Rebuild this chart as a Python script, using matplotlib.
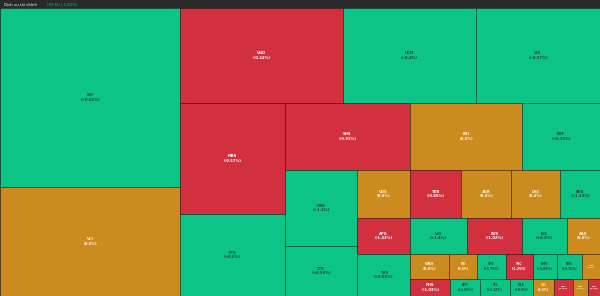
import matplotlib
matplotlib.use("Agg")
import matplotlib.pyplot as plt
from matplotlib.patches import Rectangle

# Treemap of the financial services sector
tickers = ["SSI", "VCI",
           "VND", "HCM", "VIX",
           "MBS", "FTS",
           "SHS", "BSI", "EVF",
           "ORS", "CTS",
           "VDS", "TVB", "AGR", "DSC", "BVS",
           "APG", "VIG", "EVS", "IVS", "AAS",
           "TVS",
           "WSS", "PSI", "VFS", "TVC", "BMS", "SBS", "HBS",
           "PHS", "APS", "TCI", "DSE", "CSI", "HAC", "GBS", "AVS"]
sizes = [32220, 19620,
         15485, 12635, 11780,
         11655, 8610,
         8375, 7504, 5226,
         5472, 3600,
         2544, 2448, 2400, 2352, 1920,
         1908, 2052, 1980, 1620, 1188,
         2226,
         975, 700, 700, 675, 600, 625, 450,
         680, 510, 510, 391, 357, 323, 255, 204]
changes = [0.65, 0.0,
           -0.34, 0.4, 0.37,
           -0.57, 0.6,
           -0.91, 0.0, 0.35,
           1.1, 0.59,
           0.0, -0.86, 0.0, 0.0, 1.19,
           -1.43, 2.4, -1.02, 0.3, 0.0,
           0.56,
           0.0, 0.0, 1.79, -1.25, 0.89, 0.76, 0.0,
           -1.03, 2.08, 1.12, 0.9, 0.0, -1.8, 0.0, -2.0]

# how the tiles are grouped into strips: (direction, number of tiles)
strips = [("V", 2), ("H", 3), ("V", 2), ("H", 3), ("V", 2),
          ("H", 5), ("H", 5), ("V", 1), ("H", 7), ("H", 8)]

GREEN = "#0cc486"
RED = "#d3303f"
GOLD = "#cc8b1e"


def layout(vals, groups, x, y, w, h):
    rects = []
    i = 0
    for d, n in groups:
        part = vals[i:i + n]
        rest = sum(vals[i:])
        frac = sum(part) / rest
        if d == "V":
            sw = w * frac
            yy = y
            for v in part:
                ih = h * v / sum(part)
                rects.append((x, yy, sw, ih))
                yy += ih
            x += sw
            w -= sw
        else:
            sh = h * frac
            xx = x
            for v in part:
                iw = w * v / sum(part)
                rects.append((xx, y, iw, sh))
                xx += iw
            y += sh
            h -= sh
        i += n
    return rects


fig = plt.figure(figsize=(6, 2.96), dpi=100)
fig.patch.set_facecolor("#2a2a2a")
ax = fig.add_axes([0, 0, 1, 288 / 296])
ax.set_xlim(0, 600)
ax.set_ylim(288, 0)
ax.axis("off")

rects = layout(sizes, strips, 0, 0, 600, 288)
for (rx, ry, rw, rh), t, c in zip(rects, tickers, changes):
    if c > 0:
        col, tc = GREEN, "#1b4a37"
    elif c < 0:
        col, tc = RED, "white"
    else:
        col, tc = GOLD, "#fff3d6"
    ax.add_patch(Rectangle((rx, ry), rw, rh, facecolor=col,
                           edgecolor=(0, 0, 0, 0.35), linewidth=0.6))
    if c == 0:
        pct = "(0.0%)"
    else:
        pct = "(%+.2f%%)" % c if abs(c * 10 - round(c * 10)) > 1e-9 else "(%+.1f%%)" % c
    if rw > 30:
        fs = 2.7
    elif rw > 20:
        fs = 2.2
    else:
        fs = 1.6
    ax.text(rx + rw / 2, ry + rh / 2, t + "\n" + pct, ha="center", va="center",
            fontsize=fs, color=tc, fontweight="bold", linespacing=1.1)

fig.text(0.006, 1 - 4 / 296, "Dịch vụ tài chính", color="white", fontsize=2.8,
         va="center", ha="left")
fig.text(0.078, 1 - 4 / 296, "(93.50 | 0.42%)", color=GREEN, fontsize=2.8,
         va="center", ha="left")

fig.savefig("out.png", dpi=100, facecolor=fig.get_facecolor())
